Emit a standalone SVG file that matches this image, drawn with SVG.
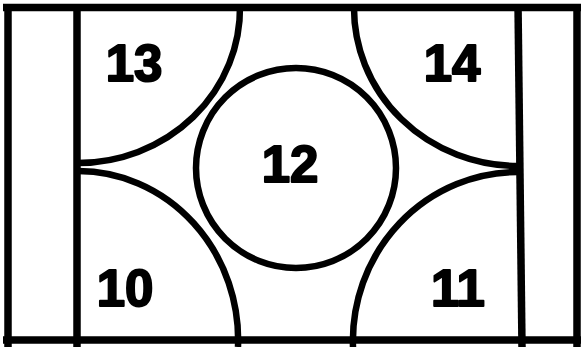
<svg xmlns="http://www.w3.org/2000/svg" width="582" height="347" viewBox="0 0 582 347">
<style>
.ln{fill:none;stroke:#000;stroke-width:7.5;stroke-linecap:butt}
.arc{fill:none;stroke:#000;stroke-width:6.5}
.lb{font-family:"Liberation Sans",Arial,sans-serif;font-weight:bold;font-size:51px;fill:#000;stroke:#000;stroke-width:2;stroke-linejoin:round;text-anchor:middle}
</style>
<rect width="582" height="347" fill="#fff"/>
<g id="frame">
<line class="ln" x1="3" y1="7.5" x2="581" y2="7.5"/>
<line class="ln" x1="3" y1="340" x2="581" y2="340"/>
<line class="ln" x1="8" y1="4" x2="8" y2="347"/>
<line class="ln" x1="577" y1="4" x2="577" y2="347"/>
<line class="ln" x1="77" y1="4" x2="77" y2="347"/>
<line class="ln" x1="518" y1="4" x2="522" y2="347"/>
</g>
<g id="connectors"></g>
<g id="n13">
<path class="arc" d="M240,6 A162,155 0 0 1 78,163"/>
<text class="lb" x="134" y="81">13</text>
</g>
<g id="n14">
<path class="arc" d="M354,6 A164,158 0 0 0 518,166"/>
<text class="lb" x="452" y="81">14</text>
</g>
<g id="n10">
<path class="arc" d="M78,171 A160,169 0 0 1 238,347"/>
<text class="lb" x="125" y="306">10</text>
</g>
<g id="n11">
<path class="arc" d="M519,172 A165,169 0 0 0 353,347"/>
<text class="lb" x="458" y="306">11</text>
</g>
<g id="n12">
<circle class="arc" cx="296" cy="168" r="100"/>
<text class="lb" x="290" y="182">12</text>
</g>
</svg>
